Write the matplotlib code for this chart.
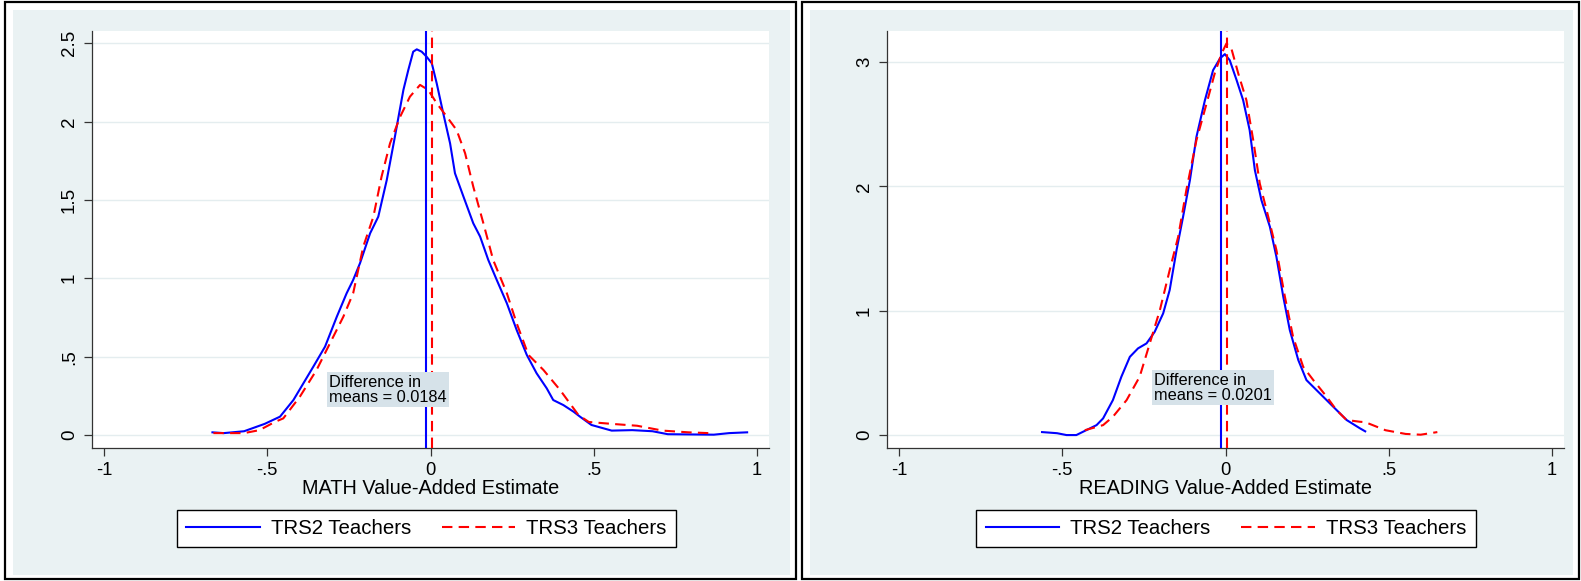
import matplotlib
matplotlib.use("Agg")
import matplotlib.pyplot as plt
from matplotlib.patches import Rectangle
from matplotlib.lines import Line2D

plt.rcParams['font.family'] = ['Liberation Sans', 'DejaVu Sans']
plt.rcParams['lines.scale_dashes'] = False

# MATH panel: kernel densities
math_trs2_x = [-0.668, -0.633, -0.571, -0.508, -0.461, -0.420, -0.359, -0.323, -0.287, -0.257,
               -0.237, -0.216, -0.185, -0.160, -0.134, -0.109, -0.083, -0.068, -0.053, -0.042,
               -0.027, -0.012, 0.004, 0.019, 0.039, 0.060, 0.075, 0.101, 0.131, 0.152,
               0.177, 0.203, 0.234, 0.264, 0.295, 0.325, 0.356, 0.376, 0.407, 0.438,
               0.458, 0.493, 0.555, 0.618, 0.680, 0.727, 0.868, 0.915, 0.970]
math_trs2_y = [0.017, 0.012, 0.024, 0.071, 0.117, 0.223, 0.436, 0.564, 0.755, 0.904,
               0.989, 1.096, 1.287, 1.393, 1.627, 1.904, 2.202, 2.329, 2.446, 2.461,
               2.446, 2.414, 2.372, 2.244, 2.053, 1.861, 1.670, 1.521, 1.351, 1.266,
               1.117, 0.989, 0.840, 0.670, 0.511, 0.394, 0.298, 0.223, 0.191, 0.149,
               0.117, 0.064, 0.028, 0.031, 0.024, 0.005, 0.002, 0.012, 0.017]
math_trs3_x = [-0.665, -0.571, -0.524, -0.477, -0.451, -0.400, -0.349, -0.308, -0.267, -0.237,
               -0.206, -0.175, -0.150, -0.124, -0.093, -0.063, -0.032, -0.007, 0.019, 0.050,
               0.080, 0.106, 0.131, 0.162, 0.192, 0.234, 0.264, 0.300, 0.346, 0.397,
               0.453, 0.485, 0.555, 0.633, 0.711, 0.790, 0.852]
math_trs3_y = [0.012, 0.012, 0.031, 0.083, 0.106, 0.245, 0.415, 0.585, 0.755, 0.904,
               1.202, 1.393, 1.648, 1.861, 2.031, 2.159, 2.234, 2.202, 2.117, 2.031,
               1.946, 1.798, 1.585, 1.351, 1.117, 0.904, 0.713, 0.511, 0.415, 0.287,
               0.128, 0.083, 0.071, 0.059, 0.028, 0.017, 0.012]
math_means = [-0.0150, 0.0034]
math_diff = "0.0184"

# READING panel
read_trs2_x = [-0.562, -0.516, -0.487, -0.457, -0.426, -0.395, -0.375, -0.345, -0.319, -0.293,
               -0.268, -0.242, -0.217, -0.191, -0.171, -0.150, -0.130, -0.109, -0.089, -0.063,
               -0.038, -0.017, -0.002, 0.013, 0.034, 0.054, 0.074, 0.090, 0.110, 0.136,
               0.156, 0.177, 0.197, 0.223, 0.248, 0.289, 0.330, 0.371, 0.412, 0.428]
read_trs2_y = [0.024, 0.015, 0.0, 0.0, 0.040, 0.080, 0.134, 0.281, 0.469, 0.629,
               0.697, 0.737, 0.830, 0.978, 1.166, 1.487, 1.755, 2.050, 2.398, 2.693,
               2.934, 3.028, 3.063, 3.014, 2.854, 2.693, 2.452, 2.130, 1.889, 1.675,
               1.433, 1.112, 0.844, 0.603, 0.442, 0.335, 0.228, 0.121, 0.054, 0.030]
read_trs3_x = [-0.431, -0.375, -0.345, -0.303, -0.263, -0.232, -0.201, -0.171, -0.145, -0.120,
               -0.089, -0.058, -0.033, -0.012, 0.003, 0.018, 0.039, 0.064, 0.085, 0.105,
               0.131, 0.156, 0.182, 0.207, 0.238, 0.269, 0.310, 0.340, 0.371, 0.412,
               0.428, 0.490, 0.552, 0.598, 0.649]
read_trs3_y = [0.039, 0.080, 0.147, 0.281, 0.469, 0.737, 1.005, 1.326, 1.594, 1.969,
               2.371, 2.666, 2.908, 3.068, 3.149, 3.108, 2.908, 2.693, 2.371, 2.023,
               1.755, 1.487, 1.112, 0.790, 0.549, 0.442, 0.308, 0.201, 0.121, 0.107,
               0.104, 0.039, 0.009, 0.003, 0.024]
read_means = [-0.0150, 0.0051]
read_diff = "0.0201"

xticks = [-1, -0.5, 0, 0.5, 1]
xtick_labels = ["-1", "-.5", "0", ".5", "1"]
math_yticks = [0, 0.5, 1, 1.5, 2, 2.5]
math_ytick_labels = ["0", ".5", "1", "1.5", "2", "2.5"]
read_yticks = [0, 1, 2, 3]
read_ytick_labels = ["0", "1", "2", "3"]
series_names = ["TRS2 Teachers", "TRS3 Teachers"]

BG = '#EAF2F3'
BOX = '#D6E2E9'
DASH = (7.5, 4.5)
W, H = 1581, 581

fig = plt.figure(figsize=(W / 100, H / 100), dpi=100)
fig.patch.set_facecolor('white')


def frac(x0, y0, x1, y1):
    # pixel box (top-left origin) -> figure fraction [l, b, w, h]
    return [x0 / W, 1 - y1 / H, (x1 - x0) / W, (y1 - y0) / H]


def panel(px0, px1, ax_x0, ax_x1, tx, ty, txt_xy, ylim, yticks, ylabels,
          means, diff, xlab, legx0, legx1):
    # outer frame and light background
    l, b, w, h = frac(px0, 2, px1, 579)
    fig.patches.append(Rectangle((l, b), w, h, transform=fig.transFigure,
                                 fc='white', ec='black', lw=1.6, zorder=-2))
    l, b, w, h = frac(px0 + 8, 10, px1 - 6, 575)
    fig.patches.append(Rectangle((l, b), w, h, transform=fig.transFigure,
                                 fc=BG, ec='none', zorder=-1))

    ax = fig.add_axes(frac(ax_x0, 31, ax_x1, 448))
    ax.set_facecolor('white')
    for s in ['top', 'right']:
        ax.spines[s].set_visible(False)
    for s in ['left', 'bottom']:
        ax.spines[s].set_color('#333333')
        ax.spines[s].set_linewidth(0.9)
    ax.set_xlim(-1.037, 1.037)
    ax.set_ylim(*ylim)
    ax.set_xticks(xticks)
    ax.set_xticklabels(xtick_labels, fontsize=13.2)
    ax.set_yticks(yticks)
    ax.set_yticklabels(ylabels, fontsize=13.5, rotation=90, va='center')
    ax.tick_params(axis='both', length=6, width=0.9, color='#333333', pad=4)
    ax.grid(axis='y', color='#E4EDEF', lw=1.0)
    ax.set_axisbelow(True)

    ax.plot(tx[0], ty[0], color='blue', lw=1.5, zorder=3, solid_joinstyle='round')
    ax.plot(tx[1], ty[1], color='red', lw=1.5, dashes=DASH, zorder=3,
            dash_joinstyle='round')
    ax.axvline(means[0], color='blue', lw=1.5, zorder=3)
    ax.axvline(means[1], color='red', lw=1.5, dashes=DASH, zorder=3)

    ax.text(txt_xy[0], txt_xy[1], "Difference in\nmeans = " + diff, fontsize=11.8,
            ha='left', va='top', linespacing=1.0, zorder=4,
            bbox=dict(boxstyle='square,pad=0.15', fc=BOX, ec='none'))

    ax.set_xlabel(xlab, fontsize=14.3)
    ax.xaxis.set_label_coords(0.5, -0.098)
    ax.xaxis.label.set_va('center')

    handles = [Line2D([], [], color='blue', lw=1.5),
               Line2D([], [], color='red', lw=1.5, dashes=DASH)]
    cx = (legx0 + legx1) / 2 / W
    leg = fig.legend(handles, series_names, loc='center', ncol=2,
                     bbox_to_anchor=(cx, 1 - 528.5 / H), fontsize=14.7,
                     frameon=True, fancybox=False, edgecolor='black',
                     facecolor='white', framealpha=1.0,
                     handlelength=3.6, handletextpad=0.55, columnspacing=1.5,
                     borderpad=0.45)
    leg.get_frame().set_linewidth(1.0)
    return ax


panel(5, 796, 92, 769, [math_trs2_x, math_trs3_x], [math_trs2_y, math_trs3_y],
      (-0.31, 0.385), (-0.083, 2.578), math_yticks, math_ytick_labels,
      math_means, math_diff, "MATH Value-Added Estimate", 181, 672)
panel(802, 1579, 887, 1564, [read_trs2_x, read_trs3_x], [read_trs2_y, read_trs3_y],
      (-0.219, 0.50), (-0.104, 3.249), read_yticks, read_ytick_labels,
      read_means, read_diff, "READING Value-Added Estimate", 978, 1474)

fig.savefig('out.png', dpi=100, facecolor=fig.get_facecolor())
